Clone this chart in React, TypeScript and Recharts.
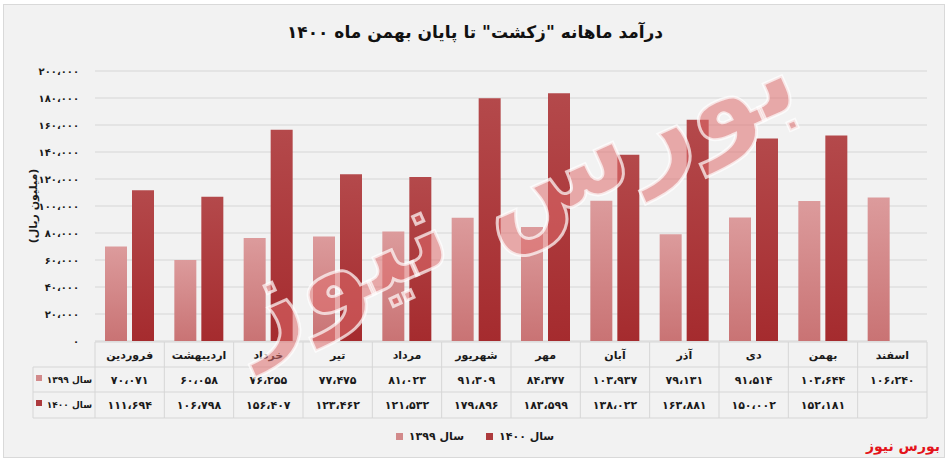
import React from 'react';
import { BarChart, Bar, XAxis, YAxis, CartesianGrid } from 'recharts';

const months = ['فروردین', 'اردیبهشت', 'خرداد', 'تیر', 'مرداد', 'شهریور', 'مهر', 'آبان', 'آذر', 'دی', 'بهمن', 'اسفند'];
const sales1399 = [70071, 60058, 76255, 77475, 81023, 91309, 84377, 103937, 79131, 91514, 103644, 106240];
const sales1400: (number | null)[] = [111694, 106798, 156407, 123462, 121532, 179896, 183599, 138022, 163881, 150002, 152181, null];
const yTicks = [0, 20000, 40000, 60000, 80000, 100000, 120000, 140000, 160000, 180000, 200000];
const seriesNames = ['سال ۱۳۹۹', 'سال ۱۴۰۰'];

const rows = months.map((m, i) => ({ month: m, s1399: sales1399[i], s1400: sales1400[i] }));

const FONT = '"DejaVu Sans", sans-serif';
const LIGHT = '#d28a8b';
const DARK = '#ad3a3d';
const LINE = '#d6d6d6';
const W = 948;
const H = 460;
const PLOT_W = 832;

const faDigits = '۰۱۲۳۴۵۶۷۸۹';
function toFa(n: number | null): string {
  if (n == null) return '';
  return n
    .toLocaleString('en-US')
    .replace(/,/g, '،')
    .replace(/\d/g, (d) => faDigits[Number(d)]);
}

function TableTick(props: any) {
  const { x, y, payload } = props;
  const i: number = payload.index;
  const w = payload.offset ? payload.offset * 2 : PLOT_W / months.length;
  const left = x - w / 2;
  const r0 = y + 1;
  const r1 = y + 26;
  const r2 = y + 51;
  const r3 = y + 77;
  const txt = { fontFamily: FONT, fontSize: 11, fontWeight: 700, fill: '#1a1a1a', textAnchor: 'middle' as const };
  return (
    <g>
      <line x1={left} x2={left + w} y1={r0} y2={r0} stroke={LINE} />
      <line x1={left} x2={left + w} y1={r1} y2={r1} stroke={LINE} />
      <line x1={left} x2={left + w} y1={r2} y2={r2} stroke={LINE} />
      <line x1={left} x2={left + w} y1={r3} y2={r3} stroke={LINE} />
      <line x1={left + w} x2={left + w} y1={r0} y2={r3} stroke={LINE} />
      {i === 0 && (
        <g>
          <line x1={left} x2={left} y1={r0} y2={r3} stroke={LINE} />
          <line x1={33} x2={left} y1={r1} y2={r1} stroke={LINE} />
          <line x1={33} x2={left} y1={r2} y2={r2} stroke={LINE} />
          <line x1={33} x2={left} y1={r3} y2={r3} stroke={LINE} />
          <line x1={33} x2={33} y1={r1} y2={r3} stroke={LINE} />
          <rect x={36} y={r1 + 8} width={6} height={6} fill={LIGHT} />
          <text {...txt} fontSize={9} x={left - 3} y={r1 + 16} textAnchor="end">{seriesNames[0]}</text>
          <rect x={36} y={r2 + 8} width={6} height={6} fill={DARK} />
          <text {...txt} fontSize={9} x={left - 3} y={r2 + 16} textAnchor="end">{seriesNames[1]}</text>
        </g>
      )}
      <text {...txt} x={x} y={r0 + 17}>{months[i]}</text>
      <text {...txt} x={x} y={r1 + 17}>{toFa(sales1399[i])}</text>
      <text {...txt} x={x} y={r2 + 17}>{toFa(sales1400[i])}</text>
    </g>
  );
}

export default function App() {
  return (
    <div style={{ position: 'absolute', left: 0, top: 0, width: W, height: H, background: '#fff', fontFamily: FONT }}>
      <div
        style={{
          position: 'absolute',
          left: 3,
          top: 4,
          width: 940,
          height: 452,
          background: '#f2f2f2',
          border: '1px solid #d9d9d9',
        }}
      />
      <div
        dir="rtl"
        style={{
          position: 'absolute',
          left: 0,
          top: 22,
          width: 950,
          textAlign: 'center',
          fontSize: 17,
          fontWeight: 700,
          color: '#111',
        }}
      >
        درآمد ماهانه "زکشت" تا پایان بهمن ماه ۱۴۰۰
      </div>
      <div style={{ position: 'absolute', left: 0, top: 0 }}>
        <BarChart
          width={W}
          height={H}
          data={rows}
          margin={{ top: 71, right: 21, left: 35, bottom: 0 }}
          barSize={22}
          barGap={5}
        >
          <defs>
            <linearGradient id="g1399" x1="0" y1="0" x2="0" y2="1">
              <stop offset="0%" stopColor="#dc9b9c" />
              <stop offset="100%" stopColor="#c97374" />
            </linearGradient>
            <linearGradient id="g1400" x1="0" y1="0" x2="0" y2="1">
              <stop offset="0%" stopColor="#b4494b" />
              <stop offset="100%" stopColor="#a52b2e" />
            </linearGradient>
          </defs>
          <CartesianGrid vertical={false} stroke={LINE} />
          <XAxis
            dataKey="month"
            height={119}
            tickLine={false}
            axisLine={false}
            tickSize={0}
            tickMargin={0}
            interval={0}
            tick={<TableTick />}
          />
          <YAxis
            width={60}
            domain={[0, 200000]}
            ticks={yTicks}
            interval={0}
            tickLine={false}
            axisLine={false}
            tickMargin={10}
            tickFormatter={(v: number) => toFa(v)}
            tick={{ fontFamily: FONT, fontSize: 10, fontWeight: 700, fill: '#1a1a1a' }}
            label={{
              value: '(میلیون ریال)',
              angle: -90,
              position: 'insideLeft',
              dx: -7,
              dy: 0,
              style: { fontFamily: FONT, fontSize: 11, fontWeight: 700, fill: '#1a1a1a', textAnchor: 'middle' },
            }}
          />
          <Bar dataKey="s1399" name={seriesNames[0]} fill="url(#g1399)" isAnimationActive={false} />
          <Bar dataKey="s1400" name={seriesNames[1]} fill="url(#g1400)" isAnimationActive={false} />
        </BarChart>
      </div>
      <svg width={W} height={H} style={{ position: 'absolute', left: 0, top: 0, pointerEvents: 'none' }}>
        <text
          x={510}
          y={230}
          textAnchor="middle"
          transform="rotate(-24 510 190)"
          fontFamily={FONT}
          fontWeight={700}
          fontSize={115}
          fill="#df6b6c"
          fillOpacity={0.55}
          stroke="#ffffff"
          strokeOpacity={0.7}
          strokeWidth={3}
        >
          بورس نیوز
        </text>
      </svg>
      <div
        style={{
          position: 'absolute',
          top: 430,
          left: 0,
          width: 950,
          display: 'flex',
          justifyContent: 'center',
          alignItems: 'center',
          gap: 6,
          fontSize: 11,
          fontWeight: 700,
          color: '#1a1a1a',
        }}
      >
        <span style={{ width: 7, height: 7, background: LIGHT, display: 'inline-block' }} />
        <span dir="rtl">{seriesNames[0]}</span>
        <span style={{ width: 10 }} />
        <span style={{ width: 7, height: 7, background: DARK, display: 'inline-block' }} />
        <span dir="rtl">{seriesNames[1]}</span>
      </div>
      <div
        dir="rtl"
        style={{ position: 'absolute', right: 8, top: 438, fontSize: 14, fontWeight: 700, color: '#e3141b' }}
      >
        بورس نیوز
      </div>
    </div>
  );
}
